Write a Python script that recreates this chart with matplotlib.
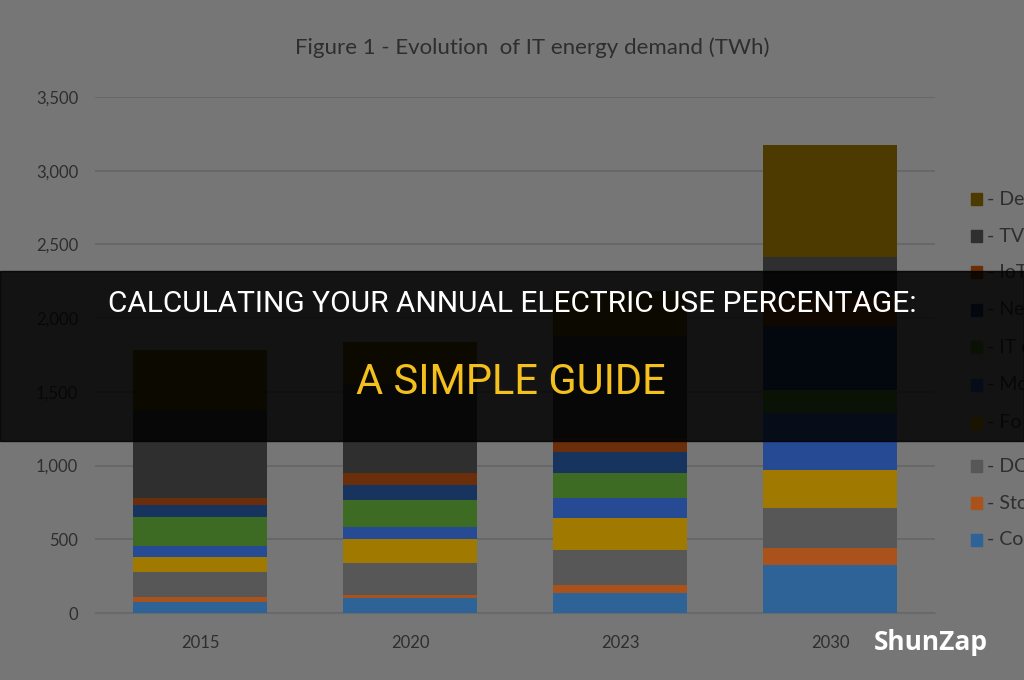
import numpy as np
from matplotlib import pyplot as plt
from matplotlib.patches import Rectangle

years = ['2015', '2020', '2023', '2030']

# stacked segments, bottom to top (TWh)
computers = [75, 102, 136, 326]
storage = [34, 20, 54, 115]
dc = [169, 217, 237, 271]
fo = [102, 163, 218, 258]
mobile = [75, 81, 135, 387]
it_equip = [196, 184, 170, 153]
networks = [82, 101, 142, 440]
iot = [47, 82, 88, 200]
tvs = [600, 600, 700, 265]
devices = [404, 288, 305, 760]

# legend runs top to bottom, cut off by the right edge in the source
legend_labels = ['- Devices', '- TVs', '- IoT', '- Network', '- IT equipment',
                 '- Mobile', '- Fo', '- DC', '- Storage', '- Computers']

yticks = [0, 500, 1000, 1500, 2000, 2500, 3000, 3500]

colors = ['#2d6396', '#a9521c', '#575757', '#a07a00', '#264a94',
          '#3e6b24', '#17345e', '#6b2e0a', '#2f2f2f', '#4d3a00']

bg = '#767676'
txt = '#2e2e2e'

fig = plt.figure(figsize=(10.24, 6.8), dpi=100)
fig.patch.set_facecolor(bg)

W, H = 1024.0, 680.0
ax = fig.add_axes([95 / W, (H - 613) / H, 840 / W, (613 - 97) / H])
ax.set_facecolor(bg)

data = [computers, storage, dc, fo, mobile, it_equip, networks, iot, tvs, devices]
x = np.arange(len(years))
bottom = np.zeros(len(years))
for vals, c in zip(data, colors):
    ax.bar(x, vals, width=0.64, bottom=bottom, color=c, zorder=3)
    bottom += np.array(vals)

ax.set_xlim(-0.5, 3.5)
ax.set_ylim(0, 3500)
ax.set_yticks(yticks)
ax.set_yticklabels(['{:,}'.format(v) for v in yticks], family='Lato')
ax.set_xticks(x)
ax.set_xticklabels(years, family='Lato')
ax.tick_params(axis='both', length=0, colors=txt, labelsize=12)
ax.tick_params(axis='y', pad=12)
ax.tick_params(axis='x', pad=16)
ax.yaxis.grid(True, color='#666666', linewidth=1.3, zorder=0)
for s in ['top', 'right', 'left']:
    ax.spines[s].set_visible(False)
ax.spines['bottom'].set_color('#6a6a6a')

fig.text(532 / W, 1 - 48 / H, 'Figure 1 - Evolution  of IT energy demand (TWh)',
         ha='center', va='center', fontsize=16, color=txt, family='Lato')

leg_y = [199, 236, 272, 310, 347, 385, 423, 466, 503, 540]
for lab, c, yy in zip(legend_labels, colors[::-1], leg_y):
    fig.patches.append(Rectangle((971 / W, 1 - (yy + 6) / H), 11 / W, 12 / H,
                                 transform=fig.transFigure, color=c, zorder=2))
    fig.text(987 / W, 1 - yy / H, lab, ha='left', va='center',
             fontsize=14, color=txt, family='Lato')

# dark banner across the middle
fig.patches.append(Rectangle((0, 1 - 441 / H), 1, 170 / H, transform=fig.transFigure,
                             color='black', alpha=0.84, zorder=10))

fig.text(512 / W, 1 - 304 / H, 'CALCULATING YOUR ANNUAL ELECTRIC USE PERCENTAGE:',
         ha='center', va='center', fontsize=21.5, color='white',
         family='Roboto', zorder=11)
fig.text(511 / W, 1 - 383 / H, 'A SIMPLE GUIDE',
         ha='center', va='center', fontsize=30, color='#f4c01e',
         family='Roboto', zorder=11)

fig.text(931 / W, 1 - 643 / H, 'ShunZap', ha='center', va='center',
         fontsize=19, fontweight='bold', color='white', family='Open Sans', zorder=11)

plt.savefig('out.png', dpi=100, facecolor=fig.get_facecolor())
